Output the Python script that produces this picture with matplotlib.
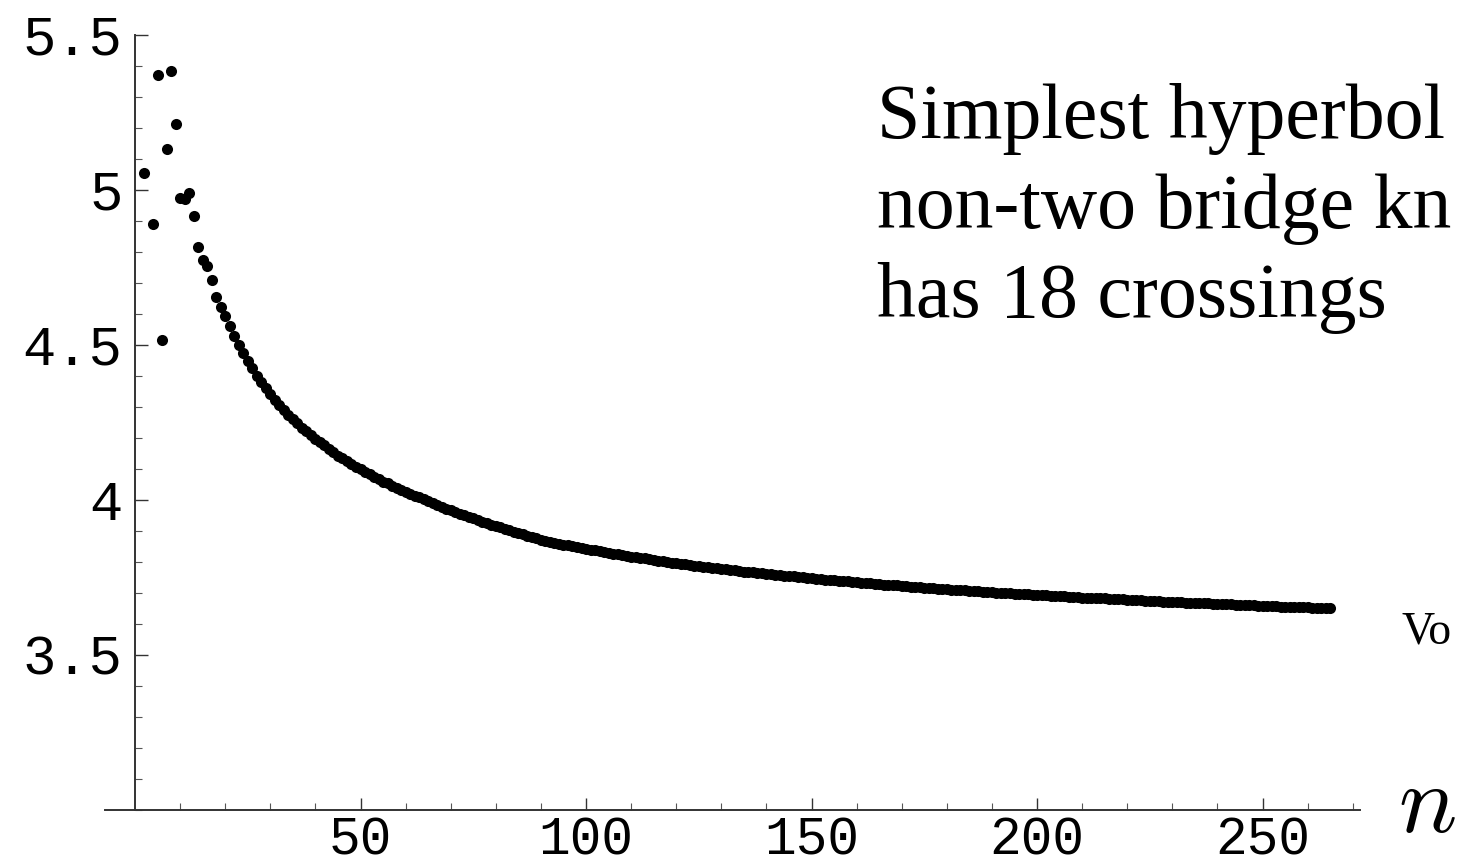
import matplotlib
matplotlib.use("Agg")
import matplotlib.pyplot as plt
from matplotlib.ticker import FixedLocator, MultipleLocator

# early, scattered terms (n = 1 and n = 3 lie outside the plotted range)
n_early = [2, 4, 5, 6, 7, 8, 9, 10, 11, 12, 13, 14, 15, 16, 17, 18, 19, 20]
vol_early = [5.055, 4.889, 5.370, 4.514, 5.131, 5.384, 5.211, 4.974, 4.971,
             4.990, 4.915, 4.815, 4.774, 4.754, 4.708, 4.654, 4.621, 4.594]

# smooth tail, n = 21 .. 265
n_tail = list(range(21, 266))
vol_tail = [
    4.560, 4.529, 4.500, 4.473, 4.448, 4.424, 4.401, 4.380, 4.360, 4.341,  # 21-30
    4.323, 4.306, 4.290, 4.275, 4.261, 4.247, 4.233, 4.221, 4.208, 4.197,  # 31-40
    4.187, 4.176, 4.165, 4.154, 4.143, 4.134, 4.125, 4.116, 4.107, 4.098,  # 41-50
    4.090, 4.082, 4.075, 4.067, 4.059, 4.053, 4.046, 4.039, 4.033, 4.026,  # 51-60
    4.020, 4.014, 4.008, 4.002, 3.996, 3.990, 3.984, 3.978, 3.971, 3.966,  # 61-70
    3.961, 3.955, 3.950, 3.946, 3.941, 3.935, 3.930, 3.926, 3.920, 3.915,  # 71-80
    3.911, 3.906, 3.903, 3.898, 3.894, 3.889, 3.885, 3.881, 3.877, 3.872,  # 81-90
    3.868, 3.865, 3.862, 3.859, 3.856, 3.853, 3.850, 3.847, 3.844, 3.841,  # 91-100
    3.839, 3.837, 3.834, 3.832, 3.829, 3.827, 3.824, 3.822, 3.819, 3.817,  # 101-110
    3.815, 3.813, 3.811, 3.809, 3.806, 3.804, 3.802, 3.800, 3.798, 3.796,  # 111-120
    3.794, 3.792, 3.790, 3.788, 3.787, 3.785, 3.783, 3.781, 3.779, 3.777,  # 121-130
    3.776, 3.774, 3.773, 3.771, 3.769, 3.768, 3.766, 3.764, 3.763, 3.761,  # 131-140
    3.760, 3.758, 3.757, 3.756, 3.754, 3.753, 3.751, 3.750, 3.748, 3.747,  # 141-150
    3.746, 3.744, 3.743, 3.742, 3.741, 3.739, 3.738, 3.737, 3.735, 3.734,  # 151-160
    3.733, 3.732, 3.731, 3.729, 3.728, 3.727, 3.726, 3.725, 3.724, 3.722,  # 161-170
    3.721, 3.720, 3.719, 3.718, 3.717, 3.716, 3.715, 3.714, 3.713, 3.712,  # 171-180
    3.711, 3.710, 3.709, 3.708, 3.707, 3.706, 3.705, 3.704, 3.703, 3.702,  # 181-190
    3.701, 3.700, 3.700, 3.699, 3.698, 3.697, 3.696, 3.695, 3.694, 3.693,  # 191-200
    3.693, 3.692, 3.691, 3.690, 3.689, 3.689, 3.688, 3.687, 3.686, 3.685,  # 201-210
    3.685, 3.684, 3.683, 3.682, 3.682, 3.681, 3.680, 3.679, 3.679, 3.678,  # 211-220
    3.677, 3.676, 3.676, 3.675, 3.674, 3.674, 3.673, 3.672, 3.672, 3.671,  # 221-230
    3.670, 3.670, 3.669, 3.668, 3.668, 3.667, 3.666, 3.666, 3.665, 3.664,  # 231-240
    3.664, 3.663, 3.663, 3.662, 3.661, 3.661, 3.660, 3.660, 3.659, 3.658,  # 241-250
    3.658, 3.657, 3.657, 3.656, 3.656, 3.655, 3.654, 3.654, 3.653, 3.653,  # 251-260
    3.652, 3.652, 3.651, 3.650, 3.650,                                     # 261-265
]

x_major = [50, 100, 150, 200, 250]
y_major = [3.5, 4.0, 4.5, 5.0, 5.5]
y_labels = ["3.5", "4", "4.5", "5", "5.5"]

# annotation as far as it is visible (the slide runs past the right edge)
note_lines = ["Simplest hyperbol", "non-two bridge kn", "has 18 crossings"]
side_label = "Vo"

W, H = 1458, 868
fig = plt.figure(figsize=(W / 100, H / 100), dpi=100)
ax = fig.add_axes([105 / W, (H - 810) / H, (1360 - 105) / W, (810 - 34.7) / H])

ax.plot(n_early + n_tail, vol_early + vol_tail, "o", color="black",
        ms=8, mec="none", clip_on=False)

ax.set_xlim(-6.65, 271.6)
ax.set_ylim(3.0, 5.5)

for side in ("top", "right"):
    ax.spines[side].set_visible(False)
ax.spines["left"].set_position(("data", 0))
for side in ("left", "bottom"):
    ax.spines[side].set_color("#333333")
    ax.spines[side].set_linewidth(1.4)

ax.xaxis.set_major_locator(FixedLocator(x_major))
ax.xaxis.set_minor_locator(FixedLocator([v for v in range(10, 271, 10) if v % 50]))
ax.yaxis.set_major_locator(FixedLocator(y_major))
ax.yaxis.set_minor_locator(MultipleLocator(0.1))
ax.set_yticklabels(y_labels)

ax.tick_params(axis="both", which="major", direction="in", length=9,
               width=1.0, color="#333333", labelsize=40)
ax.tick_params(axis="both", which="minor", direction="in", length=5,
               width=0.8, color="#555555")
ax.tick_params(axis="x", which="major", pad=4, labelsize=38)
ax.tick_params(axis="y", which="major", pad=9)
for lab in ax.get_xticklabels() + ax.get_yticklabels():
    lab.set_fontfamily("Liberation Mono")

# annotation, one baseline per line
for line, base in zip(note_lines, [138, 228, 317]):
    fig.text(877 / W, 1 - base / H, line, ha="left", va="baseline",
             fontsize=56, family="Liberation Serif")
fig.text(1402 / W, 1 - 643 / H, side_label, ha="left", va="baseline",
         fontsize=33, family="Liberation Serif")

plt.rcParams["mathtext.fontset"] = "cm"
fig.text(1398 / W, 1 - 832 / H, "$n$", ha="left", va="baseline", fontsize=70)

fig.savefig("out.png", dpi=100)
